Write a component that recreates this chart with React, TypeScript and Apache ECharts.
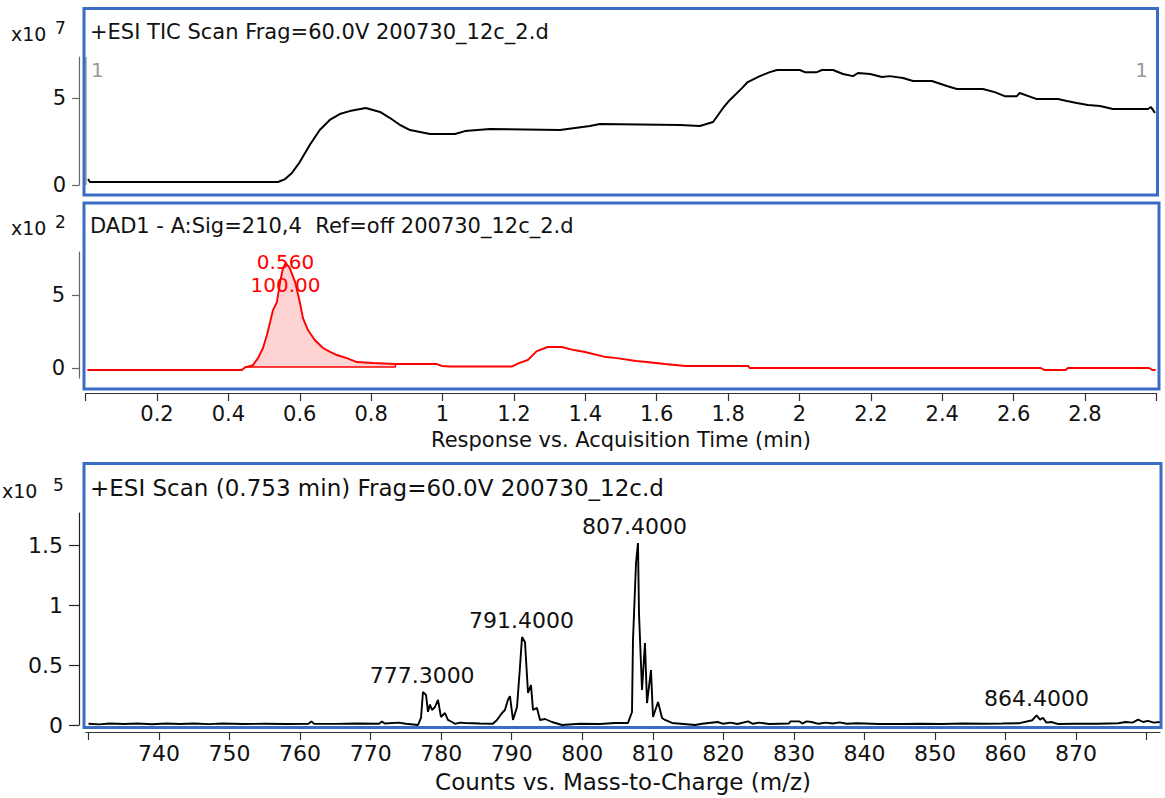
import React, { useEffect, useRef } from 'react';
import * as echarts from 'echarts';

const FONT = '"DejaVu Sans", "Liberation Sans", Arial, sans-serif';

// ---- TIC (x10^7) ----
const ticTime = [0.007, 0.012, 0.539, 0.559, 0.578, 0.600, 0.628, 0.656, 0.684, 0.712, 0.740, 0.785, 0.825, 0.853, 0.881, 0.909, 0.937, 0.965, 1.035, 1.063, 1.133, 1.329, 1.371, 1.413, 1.441, 1.665, 1.721, 1.758, 1.786, 1.805, 1.839, 1.855, 1.889, 1.917, 1.937, 2.001, 2.015, 2.049, 2.063, 2.094, 2.122, 2.150, 2.164, 2.198, 2.231, 2.253, 2.290, 2.318, 2.371, 2.413, 2.441, 2.514, 2.547, 2.575, 2.609, 2.617, 2.665, 2.724, 2.749, 2.777, 2.808, 2.842, 2.878, 2.976, 2.985, 2.996];
const ticSignal = [0.34, 0.17, 0.17, 0.34, 0.69, 1.32, 2.30, 3.16, 3.74, 4.08, 4.25, 4.43, 4.20, 3.85, 3.45, 3.16, 3.05, 2.93, 2.93, 3.10, 3.22, 3.16, 3.28, 3.39, 3.51, 3.45, 3.39, 3.62, 4.43, 4.89, 5.57, 5.92, 6.26, 6.49, 6.61, 6.61, 6.49, 6.49, 6.61, 6.61, 6.38, 6.26, 6.44, 6.38, 6.21, 6.26, 6.15, 5.98, 5.98, 5.69, 5.52, 5.52, 5.34, 5.11, 5.11, 5.29, 4.94, 4.94, 4.83, 4.71, 4.60, 4.54, 4.37, 4.37, 4.48, 4.14];
const ticMarkerTimes = [0.004, 2.995];
const ticMarkerText = '1';

// ---- DAD (x10^2) ----
const dadTime = [0.005, 0.438, 0.447, 0.452, 0.469, 0.483, 0.497, 0.508, 0.517, 0.525, 0.536, 0.545, 0.553, 0.561, 0.572, 0.587, 0.600, 0.609, 0.623, 0.642, 0.665, 0.685, 0.704, 0.732, 0.760, 0.805, 0.868, 0.984, 0.998, 1.021, 1.194, 1.214, 1.239, 1.264, 1.295, 1.334, 1.368, 1.399, 1.458, 1.489, 1.542, 1.572, 1.623, 1.681, 1.856, 1.861, 2.676, 2.687, 2.746, 2.752, 2.979, 2.990, 2.998];
const dadSignal = [-0.14, -0.14, 0.05, 0.07, 0.20, 0.68, 1.37, 2.26, 3.15, 3.97, 4.52, 5.89, 6.85, 7.19, 6.85, 5.89, 4.52, 3.42, 2.60, 1.92, 1.37, 1.10, 0.89, 0.68, 0.41, 0.34, 0.27, 0.27, 0.14, 0.10, 0.10, 0.34, 0.55, 1.16, 1.44, 1.44, 1.23, 1.10, 0.75, 0.68, 0.48, 0.41, 0.27, 0.14, 0.14, 0.0, 0.0, -0.14, -0.14, 0.0, 0.0, -0.14, -0.14];
const dadPeakStart = 0.447;
const dadPeakEnd = 0.868;
const dadPeakBase = 0.07;
const dadPeakApex = [0.56, 7.19];
const dadPeakText = '0.560\n100.00';

// ---- MS spectrum (x10^5) ----
const msMz = [730.0, 731.5, 733.0, 735.0, 737.0, 739.0, 741.0, 743.0, 745.0, 747.0, 749.0, 752.0, 755.0, 758.0, 761.2, 761.6, 762.0, 765.0, 768.0, 771.2, 771.6, 772.0, 774.0, 775.0, 776.71, 777.14, 777.42, 777.85, 778.13, 778.41, 778.70, 779.12, 779.55, 779.97, 780.54, 780.96, 781.53, 781.96, 782.67, 783.38, 785.5, 787.34, 787.91, 788.62, 789.04, 789.47, 789.75, 790.18, 790.75, 791.17, 791.46, 791.88, 792.31, 792.73, 793.02, 793.58, 794.01, 794.72, 795.71, 797.13, 799.68, 802.5, 804.64, 806.48, 807.05, 807.19, 807.62, 807.90, 808.04, 808.47, 808.89, 809.18, 809.74, 810.03, 810.74, 811.31, 811.74, 812.73, 815.99, 817.0, 819.2, 820.0, 821.0, 822.0, 823.5, 824.2, 825.0, 826.5, 829.3, 829.5, 830.8, 831.2, 831.8, 832.5, 833.5, 834.5, 835.5, 836.5, 837.5, 839.0, 842.0, 845.0, 848.0, 851.0, 854.0, 857.0, 859.5, 862.0, 863.8, 864.4, 864.9, 865.3, 865.8, 866.5, 867.5, 870.0, 873.0, 876.0, 877.0, 878.0, 878.8, 879.5, 880.2, 881.0, 881.9];
const msIntensity = [0.010, 0.005, 0.012, 0.008, 0.012, 0.006, 0.012, 0.008, 0.012, 0.007, 0.012, 0.008, 0.010, 0.008, 0.010, 0.030, 0.010, 0.009, 0.012, 0.010, 0.030, 0.012, 0.020, 0.010, 0.0, 0.06, 0.275, 0.25, 0.11, 0.17, 0.125, 0.15, 0.21, 0.067, 0.10, 0.042, 0.025, 0.010, 0.020, 0.017, 0.012, 0.010, 0.042, 0.10, 0.125, 0.21, 0.24, 0.042, 0.15, 0.483, 0.733, 0.692, 0.267, 0.333, 0.125, 0.142, 0.042, 0.05, 0.025, 0.0, 0.010, 0.008, 0.017, 0.017, 0.108, 0.708, 1.35, 1.517, 0.933, 0.292, 0.683, 0.183, 0.458, 0.067, 0.192, 0.058, 0.042, 0.017, 0.0, 0.010, 0.025, 0.010, 0.020, 0.008, 0.030, 0.010, 0.020, 0.008, 0.012, 0.030, 0.030, 0.012, 0.030, 0.025, 0.010, 0.020, 0.012, 0.022, 0.010, 0.015, 0.008, 0.008, 0.010, 0.008, 0.012, 0.010, 0.012, 0.015, 0.040, 0.080, 0.045, 0.060, 0.020, 0.025, 0.008, 0.010, 0.010, 0.015, 0.025, 0.020, 0.045, 0.025, 0.035, 0.020, 0.025];
const msPeakMz = [777.3, 791.4, 807.4, 864.4];
const msPeakHeight = [0.275, 0.733, 1.517, 0.08];
const msPeakText = ['777.3000', '791.4000', '807.4000', '864.4000'];

// ---- ticks ----
const timeTicks = [0, 0.2, 0.4, 0.6, 0.8, 1, 1.2, 1.4, 1.6, 1.8, 2, 2.2, 2.4, 2.6, 2.8, 3];
const timeLabels = [0.2, 0.4, 0.6, 0.8, 1, 1.2, 1.4, 1.6, 1.8, 2, 2.2, 2.4, 2.6, 2.8];
const mzTicks = [730, 740, 750, 760, 770, 780, 790, 800, 810, 820, 830, 840, 850, 860, 870, 880];
const mzLabels = [740, 750, 760, 770, 780, 790, 800, 810, 820, 830, 840, 850, 860, 870];
const ticYTicks = [0, 5];
const dadYTicks = [0, 5];
const msYTicks = [0, 0.5, 1, 1.5];

// ---- texts ----
const ticTitle = '+ESI TIC Scan Frag=60.0V 200730_12c_2.d';
const dadTitle = 'DAD1 - A:Sig=210,4  Ref=off 200730_12c_2.d';
const msTitle = '+ESI Scan (0.753 min) Frag=60.0V 200730_12c.d';
const timeAxisName = 'Response vs. Acquisition Time (min)';
const mzAxisName = 'Counts vs. Mass-to-Charge (m/z)';
const ticExp = '7';
const dadExp = '2';
const msExp = '5';

const BLUE = '#3a6cc6';
const AXIS = '#333';

function zip(a: number[], b: number[]) {
  return a.map((v, i) => [v, b[i]]);
}

export default function App() {
  const ref = useRef<HTMLDivElement>(null);
  useEffect(() => {
    if (!ref.current) return;
    const chart = echarts.init(ref.current, undefined, { renderer: 'svg' });
    const dadPeak = zip(dadTime, dadSignal).filter(p => p[0] >= dadPeakStart && p[0] <= dadPeakEnd);

    const yAxisBase = (gridIndex: number, min: number, max: number, ticks: number[], fontSize: number, margin: number, tickLen: number, color: string) => ({
      type: 'value', gridIndex, min, max, offset: gridIndex === 2 ? 7 : 6.6,
      axisLine: { show: true, onZero: false, lineStyle: { color, width: 1.2 } },
      axisTick: { show: true, length: tickLen, customValues: ticks, lineStyle: { color, width: 1.2 } },
      axisLabel: { customValues: ticks, fontSize, fontFamily: FONT, color: '#111', margin },
      splitLine: { show: false },
    });

    const text = (x: number, y: number, t: string, size: number, color = '#111', align = 'left') => ({
      type: 'text', x, y, silent: true,
      style: { text: t, fill: color, fontSize: size, fontFamily: FONT, align, verticalAlign: 'middle' },
    });

    chart.setOption({
      animation: false,
      backgroundColor: '#fff',
      textStyle: { fontFamily: FONT },
      grid: [
        { left: 85.6, right: 8.6, top: 57, height: 128 },
        { left: 85.6, right: 8.6, top: 252, height: 126 },
        { left: 86, right: 5, top: 513, height: 212 },
      ],
      xAxis: [
        { type: 'value', gridIndex: 0, min: 0, max: 3, show: false },
        {
          type: 'value', gridIndex: 1, min: 0, max: 3, offset: 15,
          axisLine: { show: true, onZero: false, lineStyle: { color: AXIS, width: 1.2 } },
          axisTick: { show: true, length: 8, customValues: timeTicks, lineStyle: { color: AXIS, width: 1.2 } },
          axisLabel: { customValues: timeLabels, fontSize: 21, fontFamily: FONT, color: '#111', margin: 10 },
          splitLine: { show: false },
          name: timeAxisName, nameLocation: 'middle', nameGap: 36,
          nameTextStyle: { fontSize: 21, fontFamily: FONT, color: '#111' },
        },
        {
          type: 'value', gridIndex: 2, min: 729.65, max: 881.9, offset: 7,
          axisLine: { show: true, onZero: false, lineStyle: { color: AXIS, width: 1.2 } },
          axisTick: { show: true, length: 8, customValues: mzTicks, lineStyle: { color: AXIS, width: 1.2 } },
          axisLabel: { customValues: mzLabels, fontSize: 22, fontFamily: FONT, color: '#111', margin: 10 },
          splitLine: { show: false },
          name: mzAxisName, nameLocation: 'middle', nameGap: 38,
          nameTextStyle: { fontSize: 23, fontFamily: FONT, color: '#111' },
        },
      ],
      yAxis: [
        yAxisBase(0, 0, 7.36, ticYTicks, 21, 13, 7, '#666'),
        yAxisBase(1, -0.685, 7.95, dadYTicks, 21, 14, 7, '#666'),
        yAxisBase(2, 0, 1.767, msYTicks, 22, 16, 10, '#222'),
      ],
      series: [
        {
          type: 'line', xAxisIndex: 0, yAxisIndex: 0, data: zip(ticTime, ticSignal),
          symbol: 'none', lineStyle: { color: '#000', width: 2 }, itemStyle: { color: '#000' },
          markLine: {
            silent: true, symbol: 'none', label: { show: false },
            lineStyle: { color: '#b5b5b5', width: 2, type: 'solid' },
            data: ticMarkerTimes.map(t => ({ xAxis: t })),
          },
        },
        {
          type: 'line', xAxisIndex: 1, yAxisIndex: 1, data: dadPeak,
          symbol: 'none', lineStyle: { width: 0 },
          areaStyle: { color: 'rgba(245,60,60,0.32)', origin: dadPeakBase }, z: 1,
        },
        {
          type: 'line', xAxisIndex: 1, yAxisIndex: 1, data: zip(dadTime, dadSignal),
          symbol: 'none', lineStyle: { color: '#ff0000', width: 1.9 }, itemStyle: { color: '#ff0000' },
        },
        {
          type: 'line', xAxisIndex: 1, yAxisIndex: 1,
          data: [[dadPeakStart, dadPeakBase], [dadPeakEnd, dadPeakBase], [dadPeakEnd, dadSignal[dadTime.indexOf(dadPeakEnd)]]],
          symbol: 'none', lineStyle: { color: '#ff0000', width: 1.5 },
        },
        {
          type: 'scatter', xAxisIndex: 1, yAxisIndex: 1, data: [dadPeakApex],
          symbolSize: 1, itemStyle: { color: 'rgba(0,0,0,0)', opacity: 1 }, silent: true, z: 5,
          label: {
            show: true, position: 'inside', offset: [0, 10], formatter: dadPeakText, opacity: 1,
            color: '#ff0000', fontSize: 20, lineHeight: 23, fontFamily: FONT,
          },
        },
        {
          type: 'line', xAxisIndex: 2, yAxisIndex: 2, data: zip(msMz, msIntensity),
          symbol: 'none', lineStyle: { color: '#000', width: 1.9 }, itemStyle: { color: '#000' },
        },
        {
          type: 'scatter', xAxisIndex: 2, yAxisIndex: 2,
          data: msPeakMz.map((m, i) => ({ value: [m, msPeakHeight[i]], name: msPeakText[i] })),
          symbolSize: 1, itemStyle: { color: 'rgba(0,0,0,0)', opacity: 1 }, silent: true,
          label: {
            show: true, position: 'top', distance: 5, formatter: (p: any) => p.name, opacity: 1,
            color: '#111', fontSize: 22, fontFamily: FONT,
          },
        },
      ],
      graphic: [
        { type: 'rect', shape: { x: 84, y: 8.5, width: 1073.5, height: 186.5 }, style: { fill: 'none', stroke: BLUE, lineWidth: 3 }, silent: true, z: 100 },
        { type: 'rect', shape: { x: 84, y: 203, width: 1075, height: 186 }, style: { fill: 'none', stroke: BLUE, lineWidth: 3 }, silent: true, z: 100 },
        { type: 'rect', shape: { x: 84, y: 463.5, width: 1077, height: 264 }, style: { fill: 'none', stroke: BLUE, lineWidth: 3 }, silent: true, z: 100 },
        text(90, 32, ticTitle, 21),
        text(90, 226, dadTitle, 21),
        text(90, 488, msTitle, 23),
        text(11, 34, 'x10', 19),
        text(55, 28, ticExp, 17),
        text(11, 228, 'x10', 19),
        text(55, 222, dadExp, 17),
        text(2, 491, 'x10', 19),
        text(53, 485, msExp, 17),
        text(91, 70, ticMarkerText, 20, '#999'),
        text(1148, 70, ticMarkerText, 20, '#999', 'right'),
      ],
    });
    return () => chart.dispose();
  }, []);
  return <div ref={ref} style={{ position: 'fixed', left: 0, top: 0, width: 1165, height: 798, background: '#fff' }} />;
}
